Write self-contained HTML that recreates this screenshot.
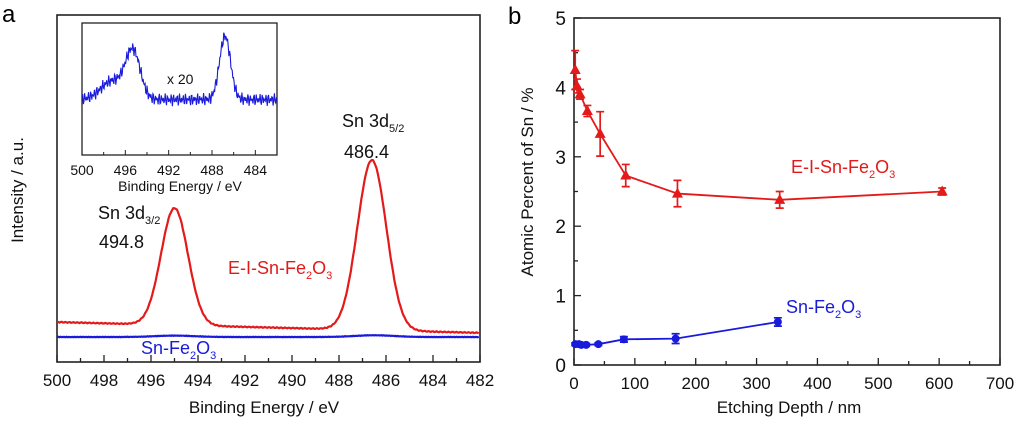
<!DOCTYPE html>
<html><head><meta charset="utf-8"><style>
body{margin:0;background:#fff;width:1024px;height:424px;overflow:hidden}
svg{font-family:"Liberation Sans",sans-serif}
</style></head><body>
<svg id="fig" width="1024" height="424" viewBox="0 0 1024 424" xmlns="http://www.w3.org/2000/svg">
<text x="2" y="22" font-size="24">a</text>
<text x="508" y="24" font-size="24">b</text>
<g id="pa"></g>
<g id="pb"></g>
</svg>
<script>
// ---- Panel a data ----
const energyTicks=[500,498,496,494,492,490,488,486,484,482];
const insetTicks=[500,496,492,488,484];
const redBaseStart=115, redBaseEnd=84;
const redPeakPos=[495.0,486.6];
const redPeakHeight=[337,490];
const redPeakFwhm=[1.35,1.45];
const blueBase=72;
const bluePeakPos=[495.0,486.5];
const bluePeakHeight=[4,5];
const insetBase=42;
const insetPeakPos=[495.3,497.2,486.8];
const insetPeakHeight=[36,14,48];
const insetPeakFwhm=[1.6,2.5,1.2];
// ---- Panel b data ----
const xTicksB=[0,100,200,300,400,500,600,700];
const yTicksB=[0,1,2,3,4,5];
const redDepth=[2,5,10,22,43,85,170,338,605];
const redVal=[4.25,4.02,3.9,3.66,3.33,2.73,2.47,2.38,2.5];
const redErr=[0.28,0.1,0.07,0.08,0.32,0.16,0.19,0.12,0.05];
const blueDepth=[2,8,12,20,40,82,167,335];
const blueVal=[0.3,0.3,0.29,0.29,0.3,0.37,0.38,0.62];
const blueErr=[0.02,0.02,0.02,0.02,0.02,0.04,0.07,0.06];

const NS="http://www.w3.org/2000/svg";
function mk(parent,tag,attrs,text){const e=document.createElementNS(NS,tag);for(const k in attrs)e.setAttribute(k,attrs[k]);if(text!==undefined)e.textContent=text;parent.appendChild(e);return e;}
const g=(x,c,w)=>Math.exp(-4*Math.LN2*Math.pow((x-c)/w,2));

// Panel a
const pa=document.getElementById('pa');
const ax=e=>57+(500-e)*(423/18);
const ay=i=>362-i*0.347;
let f=mk(pa,'rect',{x:57,y:15,width:423,height:347,fill:'none',stroke:'#222','stroke-width':1.6});

for(let e=500;e>=482;e-=1){const t=mk(pa,'line',{x1:ax(e),x2:ax(e),y1:362,y2:e%2===0?355:358,stroke:'#222','stroke-width':1.3});
}
energyTicks.forEach(v=>{const t=mk(pa,'text',{x:ax(v),y:386,'font-size':17,'text-anchor':'middle',fill:'#111'},v);
});
let t1=mk(pa,'text',{x:264,y:413,'font-size':17,'text-anchor':'middle',fill:'#111'},'Binding Energy / eV');

let t2=mk(pa,'text',{x:23,y:190,'font-size':17,'text-anchor':'middle',fill:'#111',transform:'rotate(-90 23 190)'},'Intensity / a.u.');

let rp='',bp='';
for(let e=500;e>=482;e-=0.05){
 const base=redBaseStart+(redBaseEnd-redBaseStart)*(500-e)/18;
 let r=base+Math.sin(e*37)*1.2;
 redPeakPos.forEach((p,i)=>r+=redPeakHeight[i]*g(e,p,redPeakFwhm[i]));
 let b=blueBase+Math.sin(e*53)*0.6;
 bluePeakPos.forEach((p,i)=>b+=bluePeakHeight[i]*g(e,p,2));
 rp+=(rp?'L':'M')+ax(e).toFixed(1)+','+ay(r).toFixed(1);
 bp+=(bp?'L':'M')+ax(e).toFixed(1)+','+ay(b).toFixed(1);
}
let rl=mk(pa,'path',{d:rp,fill:'none',stroke:'#e41a1a','stroke-width':2.2});

let bl=mk(pa,'path',{d:bp,fill:'none',stroke:'#1a1adc','stroke-width':2.2});

// inset
const ix=e=>82+(500-e)*(195/18);
const iy=i=>155-i*1.32;
let fi=mk(pa,'rect',{x:82,y:23,width:195,height:132,fill:'#fff',stroke:'#222','stroke-width':1.3});

for(let e=500;e>=482;e-=2){const t=mk(pa,'line',{x1:ix(e),x2:ix(e),y1:155,y2:e%4===0?150:152,stroke:'#222'});
}
insetTicks.forEach(v=>{const t=mk(pa,'text',{x:ix(v),y:175,'font-size':14,'text-anchor':'middle',fill:'#111'},v);
});
let t3=mk(pa,'text',{x:180,y:191,'font-size':14,'text-anchor':'middle',fill:'#111'},'Binding Energy / eV');

let ip='';
for(let e=500;e>=482;e-=0.06){
 let v=insetBase+Math.sin(e*71)*3+Math.sin(e*23)*2;
 insetPeakPos.forEach((p,i)=>v+=insetPeakHeight[i]*g(e,p,insetPeakFwhm[i]));
 ip+=(ip?'L':'M')+ix(e).toFixed(1)+','+iy(v).toFixed(1);
}
let il=mk(pa,'path',{d:ip,fill:'none',stroke:'#1a1adc','stroke-width':1.1});

let t4=mk(pa,'text',{x:167,y:84,'font-size':14,fill:'#111'},'x 20');

pa.insertAdjacentHTML('beforeend',
`<text x="98" y="219" font-size="18" fill="#111">Sn 3d<tspan font-size="11" dy="5">3/2</tspan></text>
<text x="99" y="248" font-size="18" fill="#111">494.8</text>
<text x="342" y="127" font-size="18" fill="#111">Sn 3d<tspan font-size="11" dy="5">5/2</tspan></text>
<text x="344" y="158" font-size="18" fill="#111">486.4</text>
<text x="228" y="274" font-size="18" fill="#e41a1a">E-I-Sn-Fe<tspan font-size="11" dy="5">2</tspan><tspan dy="-5">O</tspan><tspan font-size="11" dy="5">3</tspan></text>
<text x="141" y="354" font-size="18" fill="#1a1adc">Sn-Fe<tspan font-size="11" dy="5">2</tspan><tspan dy="-5">O</tspan><tspan font-size="11" dy="5">3</tspan></text>`);

// Panel b
const pb=document.getElementById('pb');
const bx=d=>574+d*(426/700);
const by=v=>365-v*(347/5);
let fb=mk(pb,'rect',{x:574,y:18,width:426,height:347,fill:'none',stroke:'#222','stroke-width':1.6});

for(let d=0;d<=700;d+=50){const t=mk(pb,'line',{x1:bx(d),x2:bx(d),y1:365,y2:d%100===0?358:361,stroke:'#222','stroke-width':1.3});
}
for(let v=0;v<=5;v+=0.5){const t=mk(pb,'line',{x1:574,x2:v%1===0?581:578,y1:by(v),y2:by(v),stroke:'#222','stroke-width':1.3});
}
xTicksB.forEach(v=>{const t=mk(pb,'text',{x:bx(v),y:389,'font-size':17,'text-anchor':'middle',fill:'#111'},v);
});
yTicksB.forEach(v=>{const t=mk(pb,'text',{x:566,y:by(v)+7,'font-size':19,'text-anchor':'end',fill:'#111'},v);
});
let t5=mk(pb,'text',{x:789,y:413,'font-size':17,'text-anchor':'middle',fill:'#111'},'Etching Depth / nm');

let t6=mk(pb,'text',{x:533,y:182,'font-size':17,'text-anchor':'middle',fill:'#111',transform:'rotate(-90 533 182)'},'Atomic Percent of Sn / %');

function series(xs,ys,es,col,name,tri){
 let d='';xs.forEach((x,i)=>d+=(i?'L':'M')+bx(x)+','+by(ys[i]));
 const l=mk(pb,'path',{d:d,fill:'none',stroke:col,'stroke-width':1.8});
 
 xs.forEach((x,i)=>{
  const X=bx(x),Y=by(ys[i]),t=by(ys[i]+es[i]),b=by(ys[i]-es[i]);
  const eb=mk(pb,'path',{d:`M${X},${t}L${X},${b}M${X-4},${t}L${X+4},${t}M${X-4},${b}L${X+4},${b}`,stroke:col,'stroke-width':1.7,fill:'none'});
  
  let m;
  if(tri) m=mk(pb,'path',{d:`M${X},${Y-6}L${X+5.5},${Y+4}L${X-5.5},${Y+4}Z`,fill:col});
  else m=mk(pb,'circle',{cx:X,cy:Y,r:4,fill:col});
  
 });
}
series(redDepth,redVal,redErr,'#e41a1a','e-i-sn-fe2o3',true);
series(blueDepth,blueVal,blueErr,'#1a1adc','sn-fe2o3',false);
pb.insertAdjacentHTML('beforeend',
`<text x="791" y="173" font-size="18" fill="#e41a1a">E-I-Sn-Fe<tspan font-size="11" dy="5">2</tspan><tspan dy="-5">O</tspan><tspan font-size="11" dy="5">3</tspan></text>
<text x="786" y="313" font-size="18" fill="#1a1adc">Sn-Fe<tspan font-size="11" dy="5">2</tspan><tspan dy="-5">O</tspan><tspan font-size="11" dy="5">3</tspan></text>`);
</script>
</body></html>
